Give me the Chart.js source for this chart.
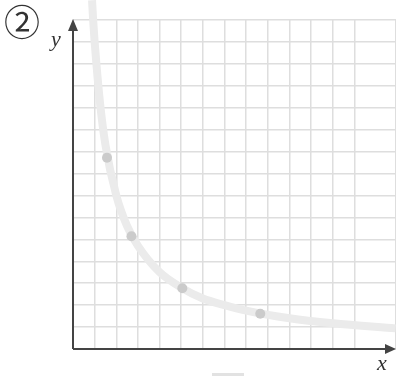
<!DOCTYPE html>
<html>
<head>
<meta charset="utf-8">
<script src="https://cdn.jsdelivr.net/npm/chart.js@4.4.1/dist/chart.umd.min.js"></script>
<style>
  html, body { margin: 0; padding: 0; background: #fff; }
  #box { width: 396px; height: 376px; }
</style>
</head>
<body>
<div id="box"><canvas id="chart"></canvas></div>
<script>
// curve (grid units)
var curveX = [0.88, 0.93, 1, 1.25, 1.5, 2, 2.5, 3, 4, 5, 6, 7, 8, 10, 12, 14.9];
var curveY = [15.9, 15, 14, 11.2, 9.3, 7, 5.6, 4.7, 3.5, 2.8, 2.3, 2, 1.75, 1.4, 1.17, 0.94];
// the four marked points
var dotX = [1.57, 2.70, 5.05, 8.65];
var dotY = [8.72, 5.14, 2.77, 1.61];
var circledLabel = "②";
var xLabel = "x";
var yLabel = "y";

function toPoints(xs, ys) {
    var out = [];
    for (var i = 0; i < xs.length; i++) out.push({ x: xs[i], y: ys[i] });
    return out;
}

// axes with arrows + labels
var decorPlugin = {
    id: "decor",
    afterDatasetsDraw: function (chart) {
        var ctx = chart.ctx;
        var xs = chart.scales.x, ys = chart.scales.y;
        var ox = xs.getPixelForValue(0), oy = ys.getPixelForValue(0);
        var right = chart.width, top = ys.getPixelForValue(15);
        ctx.save();
        ctx.strokeStyle = "#444";
        ctx.fillStyle = "#444";
        ctx.lineWidth = 2;
        ctx.beginPath();
        ctx.moveTo(ox, oy);
        ctx.lineTo(right - 8, oy);
        ctx.moveTo(ox, oy);
        ctx.lineTo(ox, top + 8);
        ctx.stroke();
        // arrow heads
        ctx.beginPath();
        ctx.moveTo(right, oy);
        ctx.lineTo(right - 11, oy - 5);
        ctx.lineTo(right - 11, oy + 5);
        ctx.closePath();
        ctx.fill();
        ctx.beginPath();
        ctx.moveTo(ox, top - 1);
        ctx.lineTo(ox - 5, top + 11);
        ctx.lineTo(ox + 5, top + 11);
        ctx.closePath();
        ctx.fill();
        // labels
        ctx.fillStyle = "#333";
        ctx.textBaseline = "alphabetic";
        ctx.font = "italic 22px 'Liberation Serif'";
        ctx.textAlign = "center";
        ctx.fillText(yLabel, 56, 46);
        ctx.fillText(xLabel, 382, 370);
        ctx.font = "36px 'Noto Sans CJK JP'";
        ctx.textBaseline = "middle";
        ctx.fillText(circledLabel, 22, 22);
        // small grey mark at the bottom
        ctx.fillStyle = "#e2e2e2";
        ctx.fillRect(212, 373, 32, 3);
        ctx.restore();
    }
};

var ctx = document.getElementById("chart").getContext("2d");
var chart = new Chart(ctx, {
    type: "scatter",
    data: {
        datasets: [
            {
                type: "line",
                data: toPoints(curveX, curveY),
                borderColor: "#ebebeb",
                borderWidth: 8,
                pointRadius: 0,
                cubicInterpolationMode: "monotone",
                clip: false,
                order: 2
            },
            {
                data: toPoints(dotX, dotY),
                backgroundColor: "#cbcbcb",
                borderWidth: 0,
                pointRadius: 5,
                order: 1
            }
        ]
    },
    options: {
        responsive: true,
        maintainAspectRatio: false,
        animation: false,
        layout: { autoPadding: false, padding: { left: 73, right: 0, top: 20, bottom: 27 } },
        plugins: { legend: { display: false }, tooltip: { enabled: false } },
        scales: {
            x: {
                type: "linear",
                min: 0,
                max: 14.92,
                ticks: { display: false, stepSize: 1 },
                grid: { color: "#dedede", lineWidth: 1.5, drawTicks: false },
                border: { display: false }
            },
            y: {
                type: "linear",
                min: 0,
                max: 15,
                ticks: { display: false, stepSize: 1 },
                grid: { color: "#dedede", lineWidth: 1.5, drawTicks: false },
                border: { display: false }
            }
        }
    },
    plugins: [decorPlugin]
});
</script>
</body>
</html>
